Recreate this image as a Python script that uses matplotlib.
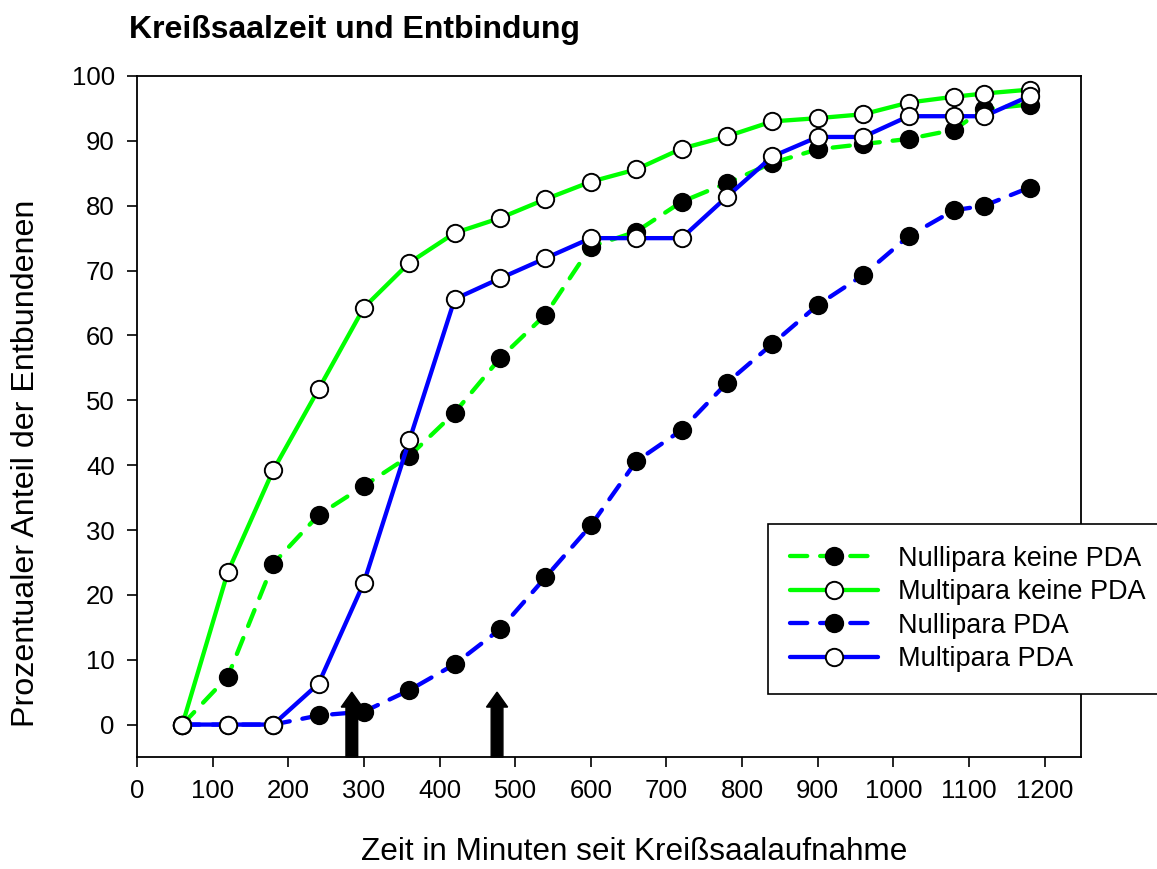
import matplotlib
matplotlib.use("Agg")
import matplotlib.pyplot as plt

# ---- data ----
minutes = [60, 120, 180, 240, 300, 360, 420, 480, 540, 600, 660, 720, 780,
           840, 900, 960, 1020, 1080, 1120, 1180]
nullipara_keine_pda = [0, 7.4, 24.8, 32.3, 36.8, 41.4, 48.1, 56.5, 63.2, 73.7,
                       76.0, 80.6, 83.5, 86.6, 88.7, 89.5, 90.3, 91.7, 94.9, 95.6]
multipara_keine_pda = [0, 23.5, 39.2, 51.7, 64.3, 71.2, 75.8, 78.1, 81.0, 83.7,
                       85.6, 88.8, 90.7, 93.0, 93.5, 94.1, 95.9, 96.8, 97.3, 97.9]
nullipara_pda = [0, 0, 0, 1.4, 2.0, 5.3, 9.3, 14.7, 22.7, 30.7,
                 40.6, 45.4, 52.7, 58.7, 64.7, 69.3, 75.3, 79.3, 80.0, 82.8]
multipara_pda = [0, 0, 0, 6.3, 21.9, 43.8, 65.6, 68.8, 71.9, 75.0,
                 75.0, 75.0, 81.4, 87.6, 90.6, 90.6, 93.8, 93.8, 93.8, 96.9]
arrow_minutes = [284, 476]

series_labels = ["Nullipara keine PDA", "Multipara keine PDA",
                 "Nullipara PDA", "Multipara PDA"]
x_ticks = list(range(0, 1201, 100))
y_ticks = list(range(0, 101, 10))

title = "Kreißsaalzeit und Entbindung"
xlabel = "Zeit in Minuten seit Kreißsaalaufnahme"
ylabel = "Prozentualer Anteil der Entbundenen"

# ---- style ----
plt.rcParams['font.family'] = ['Liberation Sans', 'DejaVu Sans']
W, H = 1157, 869
fig = plt.figure(figsize=(W / 100, H / 100), dpi=100)
ax = fig.add_axes([137 / W, 1 - 757 / H, (1081 - 137) / W, (757 - 76) / H])

GREEN = '#00ff00'
BLUE = '#0000ff'
lw = 3.1
ms = 12.5
mew = 1.4
dash = (4, 3)

common = dict(lw=lw, marker='o', ms=ms, mew=mew, mec='black',
              dash_capstyle='round', solid_capstyle='round')

ax.plot(minutes, nullipara_keine_pda, color=GREEN, ls=(0, dash), mfc='black',
        label=series_labels[0], zorder=3, **common)
ax.plot(minutes, multipara_keine_pda, color=GREEN, ls='-', mfc='white',
        label=series_labels[1], zorder=4, **common)
ax.plot(minutes, nullipara_pda, color=BLUE, ls=(0, dash), mfc='black',
        label=series_labels[2], zorder=5, **common)
ax.plot(minutes, multipara_pda, color=BLUE, ls='-', mfc='white',
        label=series_labels[3], zorder=6, **common)

for xa in arrow_minutes:
    ax.arrow(xa, -5, 0, 10, width=15.5, head_width=28, head_length=2.3,
             length_includes_head=True, fc='black', ec='black', zorder=7,
             clip_on=False)

ax.set_xlim(0, 1248)
ax.set_ylim(-5, 100)
ax.set_xticks(x_ticks)
ax.set_yticks(y_ticks)
ax.tick_params(direction='out', length=7, width=1.2, labelsize=18.5, pad=9,
               top=False, right=False)
for s in ax.spines.values():
    s.set_linewidth(1.3)
    s.set_color('black')

ax.set_xlabel(xlabel, fontsize=22.7, va='center')
ax.xaxis.set_label_coords((634 - 137) / 944, (757 - 852) / 681)
ax.set_ylabel(ylabel, fontsize=23.2, va='center')
ax.yaxis.set_label_coords((26 - 137) / 944, (757 - 463) / 681)

fig.text(129 / W, 1 - 38 / H, title, fontsize=23, fontweight='bold',
         ha='left', va='baseline')

leg = ax.legend(loc='upper left', bbox_to_anchor=(768 / W, 1 - 524 / H),
                bbox_transform=fig.transFigure, borderaxespad=0,
                fontsize=19.5, handlelength=3.25, handletextpad=0.74,
                labelspacing=0.28, borderpad=0.8, numpoints=1,
                fancybox=False, framealpha=1, edgecolor='black')
leg.get_frame().set_linewidth(1.2)

fig.savefig("out.png", dpi=100)
